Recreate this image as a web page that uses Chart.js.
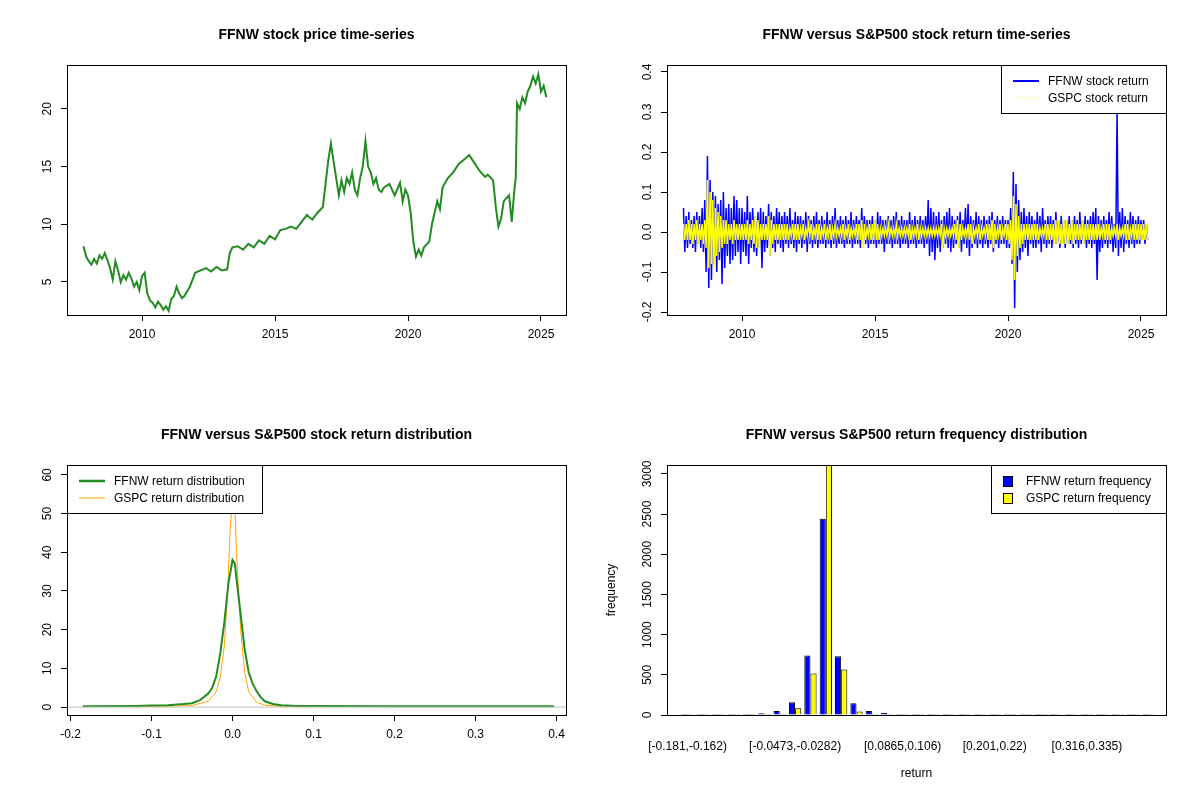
<!DOCTYPE html>
<html>
<head>
<meta charset="utf-8">
<script src="https://cdn.jsdelivr.net/npm/chart.js@4"></script>
<style>
  body { margin: 0; background: #fff; }
  #wrap { position: relative; width: 1200px; height: 800px; }
  canvas { position: absolute; }
</style>
</head>
<body>
<div id="wrap">
  <canvas id="c1" width="600" height="400" style="left:0;top:0"></canvas>
  <canvas id="c2" width="600" height="400" style="left:600px;top:0"></canvas>
  <canvas id="c3" width="600" height="400" style="left:0;top:400px"></canvas>
  <canvas id="c4" width="600" height="400" style="left:600px;top:400px"></canvas>
</div>
<script>
const FONT = '"Liberation Sans", Arial, sans-serif';
Chart.defaults.font.family = FONT;
Chart.defaults.font.size = 12;
Chart.defaults.color = '#000';

// price series
const price = [
  [2007.8,8.1],[2007.9,7.2],[2008.0,6.8],[2008.1,6.5],[2008.2,7.0],[2008.3,6.6],[2008.4,7.3],[2008.5,7.0],
  [2008.6,7.5],[2008.7,6.9],[2008.8,6.2],[2008.9,5.2],[2009.0,6.8],[2009.1,6.0],[2009.2,5.0],[2009.3,5.6],
  [2009.4,5.2],[2009.5,5.8],[2009.6,5.3],[2009.7,4.6],[2009.8,5.0],[2009.9,4.3],[2010.0,5.5],[2010.1,5.8],
  [2010.2,4.0],[2010.3,3.4],[2010.4,3.2],[2010.5,2.8],[2010.6,3.3],[2010.7,3.0],[2010.8,2.6],[2010.9,2.9],
  [2011.0,2.5],[2011.1,3.5],[2011.2,3.8],[2011.3,4.6],[2011.4,4.0],[2011.5,3.6],[2011.6,3.8],[2011.7,4.2],
  [2011.8,4.6],[2011.9,5.2],[2012.0,5.8],[2012.2,6.0],[2012.4,6.2],[2012.6,5.9],[2012.8,6.3],[2013.0,6.0],
  [2013.2,6.1],[2013.3,7.5],[2013.4,8.0],[2013.6,8.1],[2013.8,7.8],[2014.0,8.3],[2014.2,8.0],[2014.4,8.6],
  [2014.6,8.3],[2014.8,9.0],[2015.0,8.7],[2015.2,9.5],[2015.4,9.6],[2015.6,9.8],[2015.8,9.6],[2016.0,10.2],
  [2016.2,10.8],[2016.4,10.4],[2016.6,11.0],[2016.8,11.5],[2016.9,13.5],[2017.0,15.5],[2017.1,17.0],[2017.2,15.5],
  [2017.3,14.0],[2017.4,12.5],[2017.5,13.8],[2017.6,12.8],[2017.7,14.0],[2017.8,13.5],[2017.9,14.5],[2018.0,13.0],
  [2018.1,12.5],[2018.2,14.0],[2018.3,15.0],[2018.4,17.2],[2018.5,15.0],[2018.6,14.5],[2018.7,13.5],[2018.8,14.0],
  [2018.9,13.0],[2019.0,12.8],[2019.1,13.2],[2019.3,13.5],[2019.5,12.5],[2019.7,13.6],[2019.8,12.0],[2019.9,13.0],
  [2020.0,12.5],[2020.1,11.0],[2020.2,8.5],[2020.3,7.2],[2020.4,7.8],[2020.5,7.3],[2020.6,8.0],[2020.8,8.5],
  [2020.9,10.0],[2021.0,11.0],[2021.1,12.0],[2021.2,11.3],[2021.3,13.2],[2021.5,14.0],[2021.7,14.5],[2021.9,15.2],
  [2022.1,15.6],[2022.3,16.0],[2022.5,15.3],[2022.7,14.6],[2022.9,14.1],[2023.0,14.3],[2023.2,13.8],[2023.3,11.5],
  [2023.4,9.8],[2023.5,10.5],[2023.6,12.0],[2023.8,12.5],[2023.9,10.2],[2024.0,13.0],[2024.05,14.0],[2024.1,20.5],
  [2024.2,20.0],[2024.3,21.0],[2024.4,20.5],[2024.5,21.5],[2024.6,22.0],[2024.7,22.8],[2024.8,22.2],[2024.9,23.0],
  [2025.0,21.5],[2025.1,22.0],[2025.2,21.0]
];

// returns in percent: highs and lows per 0.1 year from 2007.8
const ffnwHi = [6,4,5,3,4,5,4,6, 8,19,13,10,9,7,8,10,6,7,6,9,8,6,
  6,5,9,5,6,4,5,6,5,4,7,5,4,6,5,4,5,4,6,3,5,4,4,3,5,4,3,4,5,3,
  4,3,5,3,4,6,3,4,3,4,3,5,3,4,3,6,4,3,3,4,3,5,4,3,3,4,3,4,5,3,4,3,3,5,3,4,3,4,3,4,
  8,6,5,4,5,3,4,5,6,4,3,4,5,3,6,7,4,3,5,4,3,4,3,4,5,3,4,3,4,3,
  3,6,15,12,8,5,6,4,5,4,3,5,4,6,3,4,4,3,5,3,4,3,3,4,3,4,3,5,3,4,
  3,4,5,6,4,3,4,3,5,4,2,30,5,6,4,3,5,4,3,4,3,3,2];
const ffnwLo = [5,4,3,4,5,3,4,5, 10,14,12,8,10,7,13,9,6,8,7,6,5,8,
  5,6,8,4,5,6,4,9,5,4,6,4,5,3,4,5,3,4,3,4,5,3,4,3,5,3,4,3,4,3,
  3,4,3,4,3,4,3,3,4,3,3,4,3,3,4,3,3,4,3,3,4,3,3,5,3,3,4,3,3,4,3,3,4,3,3,4,3,3,4,3,
  6,5,7,4,5,4,3,4,5,4,3,4,5,3,4,6,4,3,4,3,4,3,4,3,5,3,4,3,3,4,
  4,8,19,10,7,5,4,6,3,4,4,3,5,3,4,3,4,3,3,4,3,4,3,3,4,3,4,3,3,4,
  3,4,3,12,5,4,3,4,3,5,4,6,4,5,3,4,3,4,3,3,2,3,2];
const gspcHi = [2,2,3,2,2,3,2,2, 3,13,10,8,6,5,4,3,3,2,2,3,2,2,
  2,2,3,2,3,4,3,2,2,2,4,3,2,2,2,2,2,2,1,2,2,2,1,2,1,2,2,1,2,2,
  1,2,1,2,1,2,1,1,2,1,2,1,1,2,2,3,2,1,2,2,3,2,1,1,1,2,1,1,2,1,1,1,1,2,1,1,2,1,1,1,
  1,1,1,1,1,2,1,1,1,1,2,3,2,1,1,2,2,1,1,2,1,1,2,2,3,2,1,2,1,2,
  2,3,9,7,4,2,2,2,2,2,2,2,1,1,2,2,2,2,3,3,2,3,3,2,3,2,2,2,3,2,
  2,2,2,2,2,1,2,2,2,1,1,2,1,1,2,2,1,2,2,2,2,2,2];
const gspcLo = [2,2,2,3,2,3,2,3, 4,9,8,9,6,5,4,3,3,2,3,2,2,2,
  2,2,3,2,3,4,4,2,2,2,6,3,2,2,2,2,2,2,1,2,2,2,1,2,1,1,2,1,2,2,
  1,2,1,2,1,1,1,1,2,1,2,1,1,2,2,4,2,1,2,2,2,2,1,1,1,1,1,1,1,1,1,1,1,2,1,1,2,1,1,1,
  1,1,1,1,1,4,1,1,1,1,2,4,2,1,1,2,3,1,1,2,1,1,2,2,4,2,1,2,1,2,
  3,7,12,6,4,3,2,2,2,2,2,2,1,1,2,2,2,3,3,3,3,3,3,2,3,2,2,2,3,2,
  2,2,2,2,2,1,2,2,2,1,1,2,1,1,2,2,1,2,2,2,2,2,2];

function zigzag(hi, lo) {
  const pts = [];
  hi.forEach((h, i) => {
    const t = 2007.8 + i * 0.1;
    pts.push({ x: t, y: h / 100 });
    pts.push({ x: t + 0.05, y: -lo[i] / 100 });
  });
  return pts;
}

const ffnwDens = [[-0.185,0.2],[-0.12,0.3],[-0.1,0.4],[-0.08,0.5],[-0.06,0.8],[-0.05,1.0],[-0.04,1.8],
  [-0.03,3.5],[-0.025,5],[-0.02,8],[-0.015,14],[-0.01,22],[-0.005,32],[0,38],[0.003,37],[0.005,33],
  [0.01,24],[0.015,15],[0.02,9],[0.025,6],[0.03,4],[0.035,2.5],[0.04,1.5],[0.05,0.8],[0.06,0.5],
  [0.08,0.3],[0.1,0.25],[0.2,0.2],[0.397,0.2]];
const gspcDens = [[-0.12,0.1],[-0.08,0.2],[-0.05,0.4],[-0.03,1.5],[-0.02,4],[-0.015,8],[-0.01,16],
  [-0.006,30],[-0.003,45],[0,55],[0.002,58],[0.005,40],[0.01,20],[0.015,9],[0.02,4],[0.03,1.2],
  [0.04,0.5],[0.06,0.2],[0.09,0.1]];

const ffnwFreq = [1,2,2,6,10,22,50,160,740,2440,730,145,50,25,12,8,3,2,1,1,1,1,1,1,1,1,1,0,0,0,1];
const gspcFreq = [1,0,1,2,4,8,15,85,515,3300,565,45,12,8,4,2,0,0,0,0,0,0,0,0,0,0,0,0,0,0,0];
const binLabels = { 0: '[-0.181,-0.162)', 7: '[-0.0473,-0.0282)', 14: '[0.0865,0.106)', 20: '[0.201,0.22)', 26: '[0.316,0.335)' };

// draws title, box, rotated y labels and legend like base R
function rPlot(title, yTicks, legend) {
  return {
    id: 'rplot',
    afterDraw(chart) {
      const { ctx, chartArea: a } = chart;
      const y = chart.scales.y;
      ctx.save();
      ctx.fillStyle = '#000';
      ctx.font = 'bold 14px ' + FONT;
      ctx.textAlign = 'center';
      ctx.textBaseline = 'middle';
      ctx.fillText(title, (a.left + a.right) / 2, 35);
      ctx.strokeStyle = '#000';
      ctx.lineWidth = 1;
      ctx.strokeRect(a.left + 0.5, a.top + 0.5, a.right - a.left, a.bottom - a.top);
      ctx.font = '12px ' + FONT;
      yTicks.forEach(([v, label]) => {
        const py = y.getPixelForValue(v);
        ctx.save();
        ctx.translate(a.left - 19, py);
        ctx.rotate(-Math.PI / 2);
        ctx.fillText(label, 0, 0);
        ctx.restore();
      });
      if (legend) {
        const lw = legend.width, lh = 48;
        const lx = legend.side === 'left' ? a.left : a.right - lw;
        const ly = a.top;
        ctx.fillStyle = '#fff';
        ctx.fillRect(lx, ly, lw, lh);
        ctx.strokeRect(lx + 0.5, ly + 0.5, lw, lh);
        ctx.textAlign = 'left';
        legend.items.forEach((it, i) => {
          const cy = ly + 16 + i * 17;
          if (it.box) {
            ctx.fillStyle = it.color;
            ctx.fillRect(lx + 12, cy - 5, 9, 10);
            ctx.strokeRect(lx + 12.5, cy - 4.5, 9, 10);
          } else {
            ctx.strokeStyle = it.color;
            ctx.lineWidth = it.width;
            ctx.beginPath();
            ctx.moveTo(lx + 12, cy);
            ctx.lineTo(lx + 38, cy);
            ctx.stroke();
            ctx.strokeStyle = '#000';
            ctx.lineWidth = 1;
          }
          ctx.fillStyle = '#000';
          ctx.fillText(it.text, lx + (it.box ? 35 : 47), cy + 1);
        });
      }
      ctx.restore();
    }
  };
}

function axes(xOpt, yOpt) {
  const tickGrid = { drawOnChartArea: false, drawTicks: true, tickLength: 6, color: '#000' };
  return {
    x: Object.assign({ type: 'linear', grid: tickGrid, border: { display: false },
      ticks: { padding: 6, maxRotation: 0, autoSkip: false },
      afterFit: s => { s.height = 85; } }, xOpt),
    y: Object.assign({ type: 'linear', grid: tickGrid, border: { display: false },
      ticks: { display: false },
      afterFit: s => { s.width = 67; } }, yOpt)
  };
}

const baseOptions = (scales) => ({
  responsive: false,
  animation: false,
  layout: { padding: { top: 65, right: 34, left: 0, bottom: 0 } },
  plugins: { legend: { display: false }, tooltip: { enabled: false } },
  elements: { point: { radius: 0 }, line: { tension: 0 } },
  scales
});

const yearTicks = s => { s.ticks = [2010, 2015, 2020, 2025].map(v => ({ value: v })); };
const yearTickOpts = { padding: 6, maxRotation: 0, autoSkip: false, callback: v => String(v) };
const tickList = vals => s => { s.ticks = vals.map(v => ({ value: v })); };

new Chart(document.getElementById('c1'), {
  type: 'line',
  data: { datasets: [{ data: price.map(p => ({ x: p[0], y: p[1] })), borderColor: '#228B22', borderWidth: 2 }] },
  options: baseOptions(axes(
    { min: 2007.18, max: 2025.94, afterBuildTicks: yearTicks, ticks: yearTickOpts },
    { min: 2.14, max: 23.8, afterBuildTicks: tickList([5, 10, 15, 20]) })),
  plugins: [rPlot('FFNW stock price time-series', [5, 10, 15, 20].map(v => [v, String(v)]))]
});

const retTicks = [-0.2, -0.1, 0.0, 0.1, 0.2, 0.3, 0.4];
new Chart(document.getElementById('c2'), {
  type: 'line',
  // first dataset is drawn on top in Chart.js, so GSPC goes first
  data: { datasets: [
    { data: zigzag(gspcHi, gspcLo), borderColor: '#FFFF00', borderWidth: 1.5 },
    { data: zigzag(ffnwHi, ffnwLo), borderColor: '#0000FF', borderWidth: 1.5 }
  ] },
  options: baseOptions(axes(
    { min: 2007.18, max: 2025.94, afterBuildTicks: yearTicks, ticks: yearTickOpts },
    { min: -0.2075, max: 0.4175, afterBuildTicks: tickList(retTicks) })),
  plugins: [rPlot('FFNW versus S&P500 stock return time-series', retTicks.map(v => [v, v.toFixed(1)]), {
    side: 'right', width: 165, items: [
      { text: 'FFNW stock return', color: '#0000FF', width: 2 },
      { text: 'GSPC stock return', color: '#FFFFB0', width: 1 }
    ] })]
});

new Chart(document.getElementById('c3'), {
  type: 'line',
  data: { datasets: [
    { data: [{ x: -0.21, y: 0 }, { x: 0.42, y: 0 }], borderColor: '#BEBEBE', borderWidth: 1 },
    { data: ffnwDens.map(p => ({ x: p[0], y: p[1] })), borderColor: '#228B22', borderWidth: 2 },
    { data: gspcDens.map(p => ({ x: p[0], y: p[1] })), borderColor: '#FFA500', borderWidth: 1 }
  ] },
  options: baseOptions(axes(
    { min: -0.2043, max: 0.4117, afterBuildTicks: tickList([-0.2, -0.1, 0, 0.1, 0.2, 0.3, 0.4]),
      ticks: { padding: 6, maxRotation: 0, autoSkip: false, callback: v => v.toFixed(1) } },
    { min: -2.05, max: 62.56, afterBuildTicks: tickList([0, 10, 20, 30, 40, 50, 60]) })),
  plugins: [rPlot('FFNW versus S&P500 stock return distribution', [0, 10, 20, 30, 40, 50, 60].map(v => [v, String(v)]), {
    side: 'left', width: 195, items: [
      { text: 'FFNW return distribution', color: '#228B22', width: 2.5 },
      { text: 'GSPC return distribution', color: '#FFA500', width: 1 }
    ] })]
});

const freqTicks = [0, 500, 1000, 1500, 2000, 2500, 3000];
const histOpts = baseOptions(axes(
  { min: -1.34, max: 31.15, offset: false, grid: { display: false },
    afterBuildTicks: tickList([0, 7, 14, 20, 26]),
    ticks: { padding: 16, maxRotation: 0, autoSkip: false, callback: v => binLabels[v] || '' },
    title: { display: true, text: 'return', padding: { top: 8 } } },
  { min: 0, max: 3110, afterBuildTicks: tickList(freqTicks),
    title: { display: true, text: 'frequency', padding: { bottom: 22 } } }));
histOpts.scales.x.afterFit = s => { s.height = 70; };
histOpts.layout.padding.bottom = 15;
new Chart(document.getElementById('c4'), {
  type: 'bar',
  data: { datasets: [
    { data: ffnwFreq.map((v, i) => ({ x: i, y: v })), backgroundColor: '#0000FF', borderColor: '#000', borderWidth: 1,
      barPercentage: 1, categoryPercentage: 0.8, minBarLength: 1 },
    { data: gspcFreq.map((v, i) => ({ x: i, y: v })), backgroundColor: '#FFFF00', borderColor: '#000', borderWidth: 1,
      barPercentage: 1, categoryPercentage: 0.8, minBarLength: 1 }
  ] },
  options: histOpts,
  plugins: [rPlot('FFNW versus S&P500 return frequency distribution', freqTicks.map(v => [v, String(v)]), {
    side: 'right', width: 175, items: [
      { text: 'FFNW return frequency', color: '#0000FF', box: true },
      { text: 'GSPC return frequency', color: '#FFFF00', box: true }
    ] })]
});
</script>
</body>
</html>
